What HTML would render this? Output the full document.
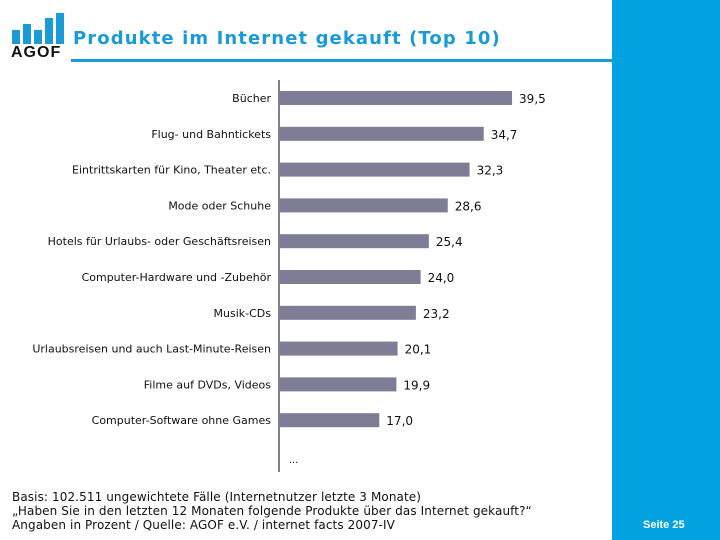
<!DOCTYPE html>
<html><head><meta charset="utf-8"><style>
body{margin:0;width:720px;height:540px;position:relative;background:#fff;font-family:"Liberation Sans","DejaVu Sans",sans-serif;overflow:hidden}
.abs{position:absolute}
</style></head><body>
<div class="abs" style="left:612px;top:0;width:108px;height:540px;background:#00a3e0"></div>
<div class="abs" style="left:643px;top:519px;color:#fff;font-size:11px;font-weight:bold">Seite 25</div>
<div class="abs" style="left:10px;top:12px;width:52px;height:50px">
 <div class="abs" style="left:2px;top:18px;width:8px;height:14px;background:#1a9ad6"></div>
 <div class="abs" style="left:13px;top:12px;width:8px;height:20px;background:#1a9ad6"></div>
 <div class="abs" style="left:24px;top:18px;width:8px;height:14px;background:#1a9ad6"></div>
 <div class="abs" style="left:35px;top:6px;width:8px;height:26px;background:#1a9ad6"></div>
 <div class="abs" style="left:46px;top:1px;width:8px;height:31px;background:#1a9ad6"></div>
 <div class="abs" style="left:1px;top:32px;font-size:16px;font-weight:bold;color:#111;letter-spacing:1px">AGOF</div>
</div>
<div class="abs" style="left:73px;top:28px;font-family:'DejaVu Sans',sans-serif;font-size:18px;font-weight:bold;color:#1a9ad6;letter-spacing:1.1px">Produkte im Internet gekauft (Top 10)</div>
<div class="abs" style="left:71px;top:59px;width:541px;height:3px;background:#1a9ad6"></div>
<svg class="abs" style="left:0;top:0" width="612" height="540" id="chart"></svg>
<div class="abs" style="left:12px;top:490px;font-family:'DejaVu Sans',sans-serif;font-size:12px;line-height:14px;color:#111;letter-spacing:0.1px">Basis: 102.511 ungewichtete Fälle (Internetnutzer letzte 3 Monate)<br>„Haben Sie in den letzten 12 Monaten folgende Produkte über das Internet gekauft?“<br>Angaben in Prozent / Quelle: AGOF e.V. / internet facts 2007-IV</div>
<script>
const categories=["Bücher","Flug- und Bahntickets","Eintrittskarten für Kino, Theater etc.","Mode oder Schuhe","Hotels für Urlaubs- oder Geschäftsreisen","Computer-Hardware und -Zubehör","Musik-CDs","Urlaubsreisen und auch Last-Minute-Reisen","Filme auf DVDs, Videos","Computer-Software ohne Games"];
const values=[39.5,34.7,32.3,28.6,25.4,24.0,23.2,20.1,19.9,17.0];
const valueLabels=["39,5","34,7","32,3","28,6","25,4","24,0","23,2","20,1","19,9","17,0"];
const svg=document.getElementById('chart');const NS='http://www.w3.org/2000/svg';
const x0=279,scale=5.9,y0=98,step=35.8;
const xs=v=>x0+v*scale, ys=i=>y0+i*step;
function mk(t,a){const e=document.createElementNS(NS,t);for(const k in a)e.setAttribute(k,a[k]);svg.appendChild(e);return e;}
categories.forEach((c,i)=>{
 const b=mk('rect',{x:x0,y:ys(i)-7,width:xs(values[i])-x0,height:14,fill:'#7d7d95'});
 
 
 const l=mk('text',{x:x0-8,y:ys(i)+4,'text-anchor':'end','font-size':'11','font-family':'DejaVu Sans, sans-serif',fill:'#111'});l.textContent=c;
 
 
 const v=mk('text',{x:xs(values[i])+7,y:ys(i)+5,'font-size':'12','font-family':'DejaVu Sans, sans-serif',fill:'#111'});v.textContent=valueLabels[i];
 
 
});
const ax=mk('line',{x1:x0,y1:80,x2:x0,y2:472,stroke:'#7d7d95','stroke-width':2});


const d=mk('text',{x:289,y:463,'font-size':'11',fill:'#111'});d.textContent='...';


</script>
</body></html>
